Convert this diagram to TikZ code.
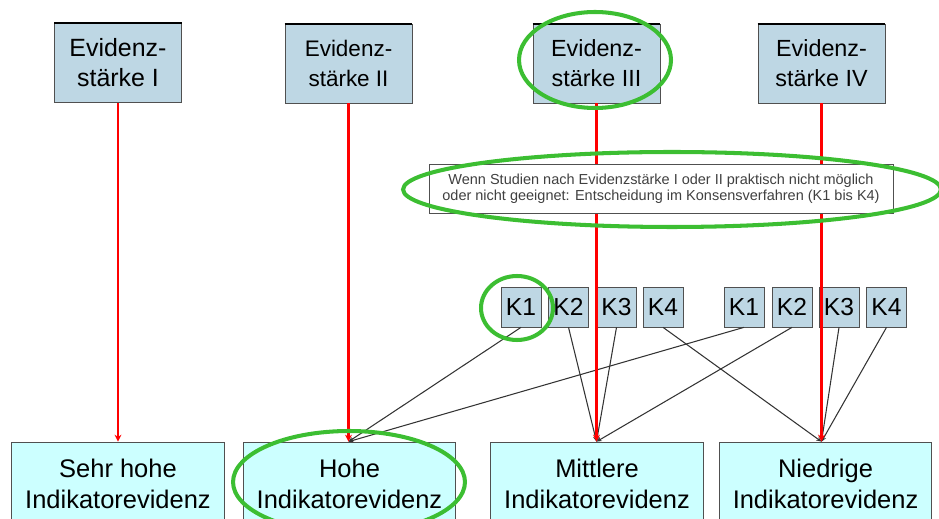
\documentclass[tikz,border=0pt]{standalone}
\usepackage{fontspec}
\setmainfont{Liberation Sans}
\usepackage{xcolor}
\usepackage{tikz}
\usetikzlibrary{positioning,shapes,arrows.meta}
\definecolor{stufeblau}{RGB}{190,215,228}
\definecolor{ergebniscyan}{RGB}{204,255,255}
\definecolor{rahmengrau}{RGB}{80,80,80}
\definecolor{markgruen}{RGB}{60,190,50}
\tikzset{
    stufe/.style={rectangle, draw=rahmengrau, fill=stufeblau, minimum width=2.54cm, minimum height=1.58cm, align=center, inner sep=1pt},
    konsens/.style={rectangle, draw=rahmengrau, fill=stufeblau, minimum size=0.8cm, inner sep=0pt, font=\fontsize{14}{16}\selectfont},
    ergebnis/.style={rectangle, draw=rahmengrau, fill=ergebniscyan, minimum width=4.25cm, minimum height=1.66cm, align=center, font=\fontsize{14.5}{17.6}\selectfont},
    hinweis/.style={rectangle, draw=rahmengrau, fill=white, minimum width=9.28cm, minimum height=0.98cm, align=center, text=black!75, font=\fontsize{8.25}{9.2}\selectfont},
    pfeilrot/.style={draw=red, line width=1.2pt, -{Stealth[length=4pt,width=4pt]}},
    pfeilschwarz/.style={draw=black!80, line width=0.6pt, -{Stealth[length=3pt,width=2.5pt]}},
    ring/.style={draw=markgruen, line width=2.3pt}
}

\begin{document}
\begin{tikzpicture}[x=0.02cm, y=-0.02cm]
    \useasboundingbox (0,0) rectangle (939,519);
    \clip (0,0) rectangle (939,519);

    % Evidenzstaerken
    \node[stufe, font=\fontsize{14.2}{17}\selectfont] (E1) at (118,63) {Evidenz-\\st\"arke I};
    \node[stufe, font=\fontsize{12.8}{17}\selectfont] (E2) at (348.5,63.5) {Evidenz-\\st\"arke II};
    \node[stufe, font=\fontsize{13.3}{17}\selectfont] (E3) at (596.5,63.5) {Evidenz-\\st\"arke III};
    \node[stufe, font=\fontsize{13.3}{17}\selectfont] (E4) at (821.5,63.5) {Evidenz-\\st\"arke IV};
    \foreach \n in {E1,E2,E3,E4}
        \draw[line width=1.1pt] (\n.north west) -- (\n.north east);

    % Konsensstufen
    \node[konsens] (K1a) at (521,307) {K1};
    \node[konsens] (K2a) at (568.5,307) {K2};
    \node[konsens] (K3a) at (616.5,307) {K3};
    \node[konsens] (K4a) at (663,307) {K4};
    \node[konsens] (K1b) at (744,307) {K1};
    \node[konsens] (K2b) at (792,307) {K2};
    \node[konsens] (K3b) at (839,307) {K3};
    \node[konsens] (K4b) at (886.5,307) {K4};

    % Indikatorevidenz
    \node[ergebnis] (B1) at (118,483.5) {Sehr hohe\\Indikatorevidenz};
    \node[ergebnis] (B2) at (349.5,483.5) {Hohe\\Indikatorevidenz};
    \node[ergebnis] (B3) at (597,483.5) {Mittlere\\Indikatorevidenz};
    \node[ergebnis] (B4) at (825.5,483.5) {Niedrige\\Indikatorevidenz};

    \coordinate (in1) at (E1.south |- B1.north);
    \coordinate (in2) at (E2.south |- B2.north);
    \coordinate (in3) at (E3.south |- B3.north);
    \coordinate (in4) at (E4.south |- B4.north);

    \draw[pfeilschwarz] (K1a.south) -- (in2);
    \draw[pfeilschwarz] (K1b.south) -- (in2);
    \draw[pfeilschwarz] (K2a.south) -- (in3);
    \draw[pfeilschwarz] (K3a.south) -- (in3);
    \draw[pfeilschwarz] (K2b.south) -- (in3);
    \draw[pfeilschwarz] (K4a.south) -- (in4);
    \draw[pfeilschwarz] (K3b.south) -- (in4);
    \draw[pfeilschwarz] (K4b.south) -- (in4);

    \draw[pfeilrot] (E1.south) -- (in1);
    \draw[pfeilrot] (E2.south) -- (in2);
    \draw[pfeilrot] (E3.south) -- (in3);
    \draw[pfeilrot] (E4.south) -- (in4);

    \node[hinweis] (H) at (661,188.5) {Wenn Studien nach Evidenzst\"arke I oder II praktisch nicht m\"oglich\\oder nicht geeignet: Entscheidung im Konsensverfahren (K1 bis K4)};

    % Markierungen
    \draw[ring] (595,60) ellipse [x radius=1.52cm, y radius=0.96cm];
    \draw[ring] (672,189.5) ellipse [x radius=5.38cm, y radius=0.75cm];
    \draw[ring] (517,308) ellipse [x radius=0.72cm, y radius=0.64cm];
    \draw[ring] (349,482) ellipse [x radius=2.32cm, y radius=1.02cm];
\end{tikzpicture}
\end{document}
